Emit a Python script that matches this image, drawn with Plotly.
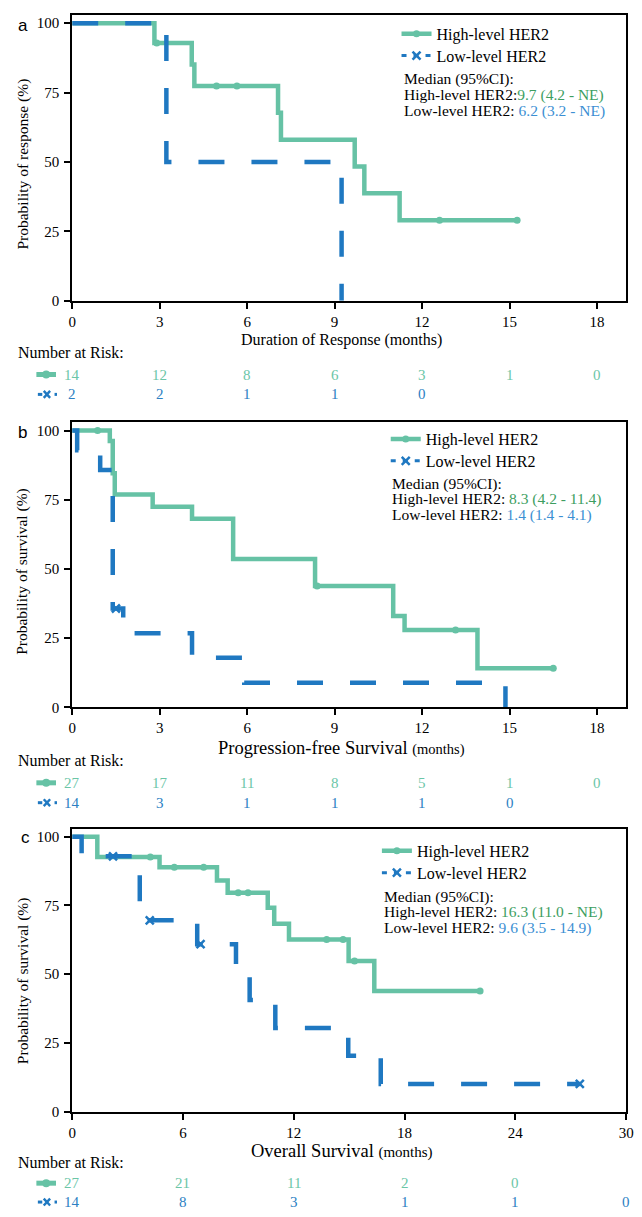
import plotly.graph_objects as go

W, H = 642, 1217
FONT = "Liberation Serif"
GREEN = "#66C2A5"
BLUE = "#1F78C1"
GREEN_TXT = "#3D9E5F"
BLUE_TXT = "#3B8FD3"
RISK_GREEN = "#6BC6A7"
RISK_BLUE = "#2C7FC3"

# ---------------- data ----------------
# Panel a: Duration of response
a_high_t = [0, 2.82, 4.10, 4.19, 7.06, 7.16, 9.69, 10.02, 11.23, 15.26]
a_high_s = [100, 92.9, 85.1, 77.4, 67.7, 58.0, 48.4, 38.7, 29.0, 29.0]
a_high_cens_t = [2.9, 4.95, 5.65, 12.6, 15.26]
a_high_cens_s = [92.9, 77.4, 77.4, 29.0, 29.0]
a_low_t = [0, 3.23, 9.24]
a_low_s = [100, 50.0, 0.0]
a_risk_times = [0, 3, 6, 9, 12, 15, 18]
a_risk_high = [14, 12, 8, 6, 3, 1, 0]
a_risk_low = [2, 2, 1, 1, 0]
a_median_high = "9.7 (4.2 - NE)"
a_median_low = "6.2 (3.2 - NE)"

# Panel b: Progression-free survival
b_high_t = [0, 1.29, 1.39, 1.46, 2.76, 4.11, 5.52, 8.33, 11.01, 11.40, 13.90, 16.50]
b_high_s = [100, 96.2, 84.6, 76.9, 72.5, 68.1, 53.6, 43.8, 33.0, 27.9, 14.1, 14.1]
b_high_cens_t = [0.87, 8.4, 13.15, 16.5]
b_high_cens_s = [100, 43.8, 27.9, 14.1]
b_low_t = [0, 0.17, 0.96, 1.39, 1.75, 4.11, 5.90, 14.86]
b_low_s = [100, 92.9, 85.7, 35.7, 26.8, 17.9, 8.9, 0.0]
b_low_cens_t = [1.5]
b_low_cens_s = [35.7]
b_risk_times = [0, 3, 6, 9, 12, 15, 18]
b_risk_high = [27, 17, 11, 8, 5, 1, 0]
b_risk_low = [14, 3, 1, 1, 1, 0]
b_median_high = "8.3 (4.2 - 11.4)"
b_median_low = "1.4 (1.4 - 4.1)"

# Panel c: Overall survival
c_high_t = [0, 1.36, 4.73, 7.84, 8.42, 10.59, 10.94, 11.74, 14.97, 16.36, 22.09]
c_high_s = [100, 92.6, 88.9, 84.1, 79.6, 74.2, 68.4, 62.6, 54.8, 43.9, 43.9]
c_high_cens_t = [4.23, 5.53, 7.12, 8.99, 9.52, 13.78, 14.67, 15.29, 22.09]
c_high_cens_s = [92.6, 88.9, 88.9, 79.6, 79.6, 62.6, 62.6, 54.8, 43.9]
c_low_t = [0, 0.51, 3.66, 6.77, 8.87, 9.61, 11.0, 14.95, 16.71, 27.49]
c_low_s = [100, 92.9, 69.6, 60.9, 50.7, 40.6, 30.4, 20.3, 10.1, 10.1]
c_low_cens_t = [2.21, 4.20, 6.95, 27.49]
c_low_cens_s = [92.9, 69.6, 60.9, 10.1]
c_risk_times = [0, 6, 12, 18, 24, 30]
c_risk_high = [27, 21, 11, 2, 0]
c_risk_low = [14, 8, 3, 1, 1, 0]
c_median_high = "16.3 (11.0 - NE)"
c_median_low = "9.6 (3.5 - 14.9)"


def px(x):
    return x / W


def py(y):
    return 1 - y / H


fig = go.Figure()

panels = [
    dict(ax="", name="a", xr=[0, 19], ticks=[0, 3, 6, 9, 12, 15, 18],
         top=15, bot=302.7,
         ht=a_high_t, hs=a_high_s, hct=a_high_cens_t, hcs=a_high_cens_s,
         lt=a_low_t, ls=a_low_s, lct=[], lcs=[],
         rt=a_risk_times, rh=a_risk_high, rl=a_risk_low,
         mh=a_median_high, ml=a_median_low, sep="",
         ytitle="Probability of response (%)", ytc=165,
         xtitle="Duration of Response (months)", xtc=342,
         leg_x=400, leg_y=[34, 56], med_x=406, med_y=[80, 96, 111.5],
         nar_y=355, row_y=[377, 397], letter_y=26, letter_x=12),
    dict(ax="2", name="b", xr=[0, 19], ticks=[0, 3, 6, 9, 12, 15, 18],
         top=425, bot=712,
         ht=b_high_t, hs=b_high_s, hct=b_high_cens_t, hcs=b_high_cens_s,
         lt=b_low_t, ls=b_low_s, lct=b_low_cens_t, lcs=b_low_cens_s,
         rt=b_risk_times, rh=b_risk_high, rl=b_risk_low,
         mh=b_median_high, ml=b_median_low, sep=" ",
         ytitle="Probability of survival (%)", ytc=575,
         xtitle="Progression-free Survival <span style='font-size:14.5px'>(months)</span>",
         xtc=753,
         leg_x=389, leg_y=[442, 464], med_x=393, med_y=[487, 502.5, 518],
         nar_y=766, row_y=[788, 808], letter_y=435, letter_x=12),
    dict(ax="3", name="c", xr=[0, 30], ticks=[0, 6, 12, 18, 24, 30],
         top=834, bot=1119,
         ht=c_high_t, hs=c_high_s, hct=c_high_cens_t, hcs=c_high_cens_s,
         lt=c_low_t, ls=c_low_s, lct=c_low_cens_t, lcs=c_low_cens_s,
         rt=c_risk_times, rh=c_risk_high, rl=c_risk_low,
         mh=c_median_high, ml=c_median_low, sep=" ",
         ytitle="Probability of survival (%)", ytc=987,
         xtitle="Overall Survival <span style='font-size:15px'>(months)</span>",
         xtc=1159,
         leg_x=380, leg_y=[856.5, 878.5], med_x=385, med_y=[903, 918.5, 934],
         nar_y=1170, row_y=[1191, 1210], letter_y=843, letter_x=15),
]

annotations = []
shapes = []
legend_count = [0]


def new_legend_id():
    legend_count[0] += 1
    return "legend" if legend_count[0] == 1 else "legend%d" % legend_count[0]


def add_legend_item(kind, name, xref, yref, x_px, y_px, size=16):
    lid = new_legend_id()
    if kind == "high":
        tr = go.Scatter(x=[None], y=[None], mode="lines+markers", name=name,
                        line=dict(color=GREEN, width=4.5),
                        marker=dict(symbol="circle", size=7, color=GREEN))
    else:
        tr = go.Scatter(x=[None], y=[None], mode="lines+markers", name=name,
                        line=dict(color=BLUE, width=3, dash="5px,7px"),
                        marker=dict(symbol="x-thin", size=8,
                                    line=dict(width=2.5, color=BLUE)))
    tr.update(xaxis=xref, yaxis=yref, legend=lid, showlegend=True, hoverinfo="skip")
    fig.add_trace(tr)
    fig.layout[lid] = dict(x=px(x_px), y=py(y_px), xanchor="left", yanchor="middle",
                           bgcolor="rgba(0,0,0,0)", borderwidth=0,
                           font=dict(family=FONT, size=size, color="black"),
                           itemclick=False, itemdoubleclick=False)


def pline(x0, y0, x1, y1, color, width):
    shapes.append(dict(type="line", xref="paper", yref="paper",
                       x0=px(x0), x1=px(x1), y0=py(y0), y1=py(y1),
                       line=dict(color=color, width=width)))


def risk_icons(y_high, y_low):
    # small line-with-marker glyphs in front of the number-at-risk rows
    pline(33, y_high, 53, y_high, GREEN, 5)
    shapes.append(dict(type="circle", xref="paper", yref="paper",
                       x0=px(39), x1=px(47), y0=py(y_high + 4), y1=py(y_high - 4),
                       fillcolor=GREEN, line=dict(width=0)))
    pline(34.5, y_low, 39, y_low, BLUE, 3)
    pline(40.5, y_low - 3.5, 47, y_low + 3.5, BLUE, 2.4)
    pline(40.5, y_low + 3.5, 47, y_low - 3.5, BLUE, 2.4)
    pline(51.5, y_low, 54, y_low, BLUE, 3)


for p in panels:
    xa = "x" + p["ax"]
    ya = "y" + p["ax"]
    fig.add_trace(go.Scatter(x=p["ht"], y=p["hs"], mode="lines",
                             line=dict(shape="hv", color=GREEN, width=4.5),
                             xaxis=xa, yaxis=ya, showlegend=False))
    fig.add_trace(go.Scatter(x=p["hct"], y=p["hcs"], mode="markers",
                             marker=dict(symbol="circle", size=7, color=GREEN),
                             xaxis=xa, yaxis=ya, showlegend=False))
    fig.add_trace(go.Scatter(x=p["lt"], y=p["ls"], mode="lines",
                             line=dict(shape="hv", color=BLUE, width=4.5, dash="26px,27px"),
                             xaxis=xa, yaxis=ya, showlegend=False))
    if p["lct"]:
        fig.add_trace(go.Scatter(x=p["lct"], y=p["lcs"], mode="markers",
                                 marker=dict(symbol="x-thin", size=8,
                                             line=dict(width=2.5, color=BLUE)),
                                 xaxis=xa, yaxis=ya, showlegend=False))

    dom_y = [py(p["bot"]), py(p["top"])]
    axis_common = dict(showline=True, linecolor="black", linewidth=2, mirror=True,
                       ticks="outside", ticklen=6, tickwidth=2, tickcolor="black",
                       showgrid=False, zeroline=False,
                       tickfont=dict(family=FONT, size=15, color="black"))
    fig.layout["xaxis" + p["ax"]] = dict(domain=[px(69.5), px(634)], range=p["xr"],
                                         tickvals=p["ticks"], anchor=ya, **axis_common)
    fig.layout["yaxis" + p["ax"]] = dict(domain=dom_y, range=[0, 103],
                                         tickvals=[0, 25, 50, 75, 100], anchor=xa,
                                         ticklabelstandoff=2, **axis_common)

    # legends
    add_legend_item("high", "High-level HER2", xa, ya, p["leg_x"], p["leg_y"][0])
    add_legend_item("low", "Low-level HER2", xa, ya, p["leg_x"], p["leg_y"][1])
    # risk table icons
    risk_icons(p["row_y"][0], p["row_y"][1])

    # panel letter
    annotations.append(dict(text=p["name"], x=px(p["letter_x"]), y=py(p["letter_y"]),
                            xref="paper", yref="paper", xanchor="left", yanchor="middle",
                            showarrow=False,
                            font=dict(family="Liberation Sans", size=17, color="black")))
    # y title
    annotations.append(dict(text=p["ytitle"], x=px(19), y=py(p["ytc"]), xref="paper",
                            yref="paper", xanchor="center", yanchor="middle",
                            textangle=-90, showarrow=False,
                            font=dict(family=FONT, size=15.5, color="black")))
    # x title
    annotations.append(dict(text=p["xtitle"], x=px(344), y=py(p["xtc"]), xref="paper",
                            yref="paper", xanchor="center", yanchor="middle",
                            showarrow=False,
                            font=dict(family=FONT, size=16 if p["name"] == "a" else 18.5,
                                      color="black")))
    # medians
    med_lines = ["Median (95%CI):",
                 "High-level HER2:" + p["sep"] + "<span style='color:%s'>%s</span>" % (GREEN_TXT, p["mh"]),
                 "Low-level HER2: <span style='color:%s'>%s</span>" % (BLUE_TXT, p["ml"])]
    for txt, yy in zip(med_lines, p["med_y"]):
        annotations.append(dict(text=txt, x=px(p["med_x"]), y=py(yy), xref="paper",
                                yref="paper", xanchor="left", yanchor="middle",
                                showarrow=False,
                                font=dict(family=FONT, size=15.5, color="black")))
    # number at risk
    annotations.append(dict(text="Number at Risk:", x=px(12), y=py(p["nar_y"]),
                            xref="paper", yref="paper", xanchor="left", yanchor="middle",
                            showarrow=False, font=dict(family=FONT, size=16, color="black")))
    for t, n in zip(p["rt"], p["rh"]):
        annotations.append(dict(text=str(n), x=t, y=py(p["row_y"][0]), xref=xa,
                                yref="paper", xanchor="center", yanchor="middle",
                                showarrow=False,
                                font=dict(family=FONT, size=15, color=RISK_GREEN)))
    for t, n in zip(p["rt"], p["rl"]):
        annotations.append(dict(text=str(n), x=t, y=py(p["row_y"][1]), xref=xa,
                                yref="paper", xanchor="center", yanchor="middle",
                                showarrow=False,
                                font=dict(family=FONT, size=15, color=RISK_BLUE)))

fig.update_layout(width=W, height=H, autosize=False,
                  margin=dict(l=0, r=0, t=0, b=0, pad=0),
                  paper_bgcolor="white", plot_bgcolor="white",
                  annotations=annotations, shapes=shapes,
                  font=dict(family=FONT, color="black"))

fig.write_html("out.html",
               config={"displayModeBar": False},
               post_script="document.body.style.margin='0px';"
                           "document.body.style.overflow='hidden';")
